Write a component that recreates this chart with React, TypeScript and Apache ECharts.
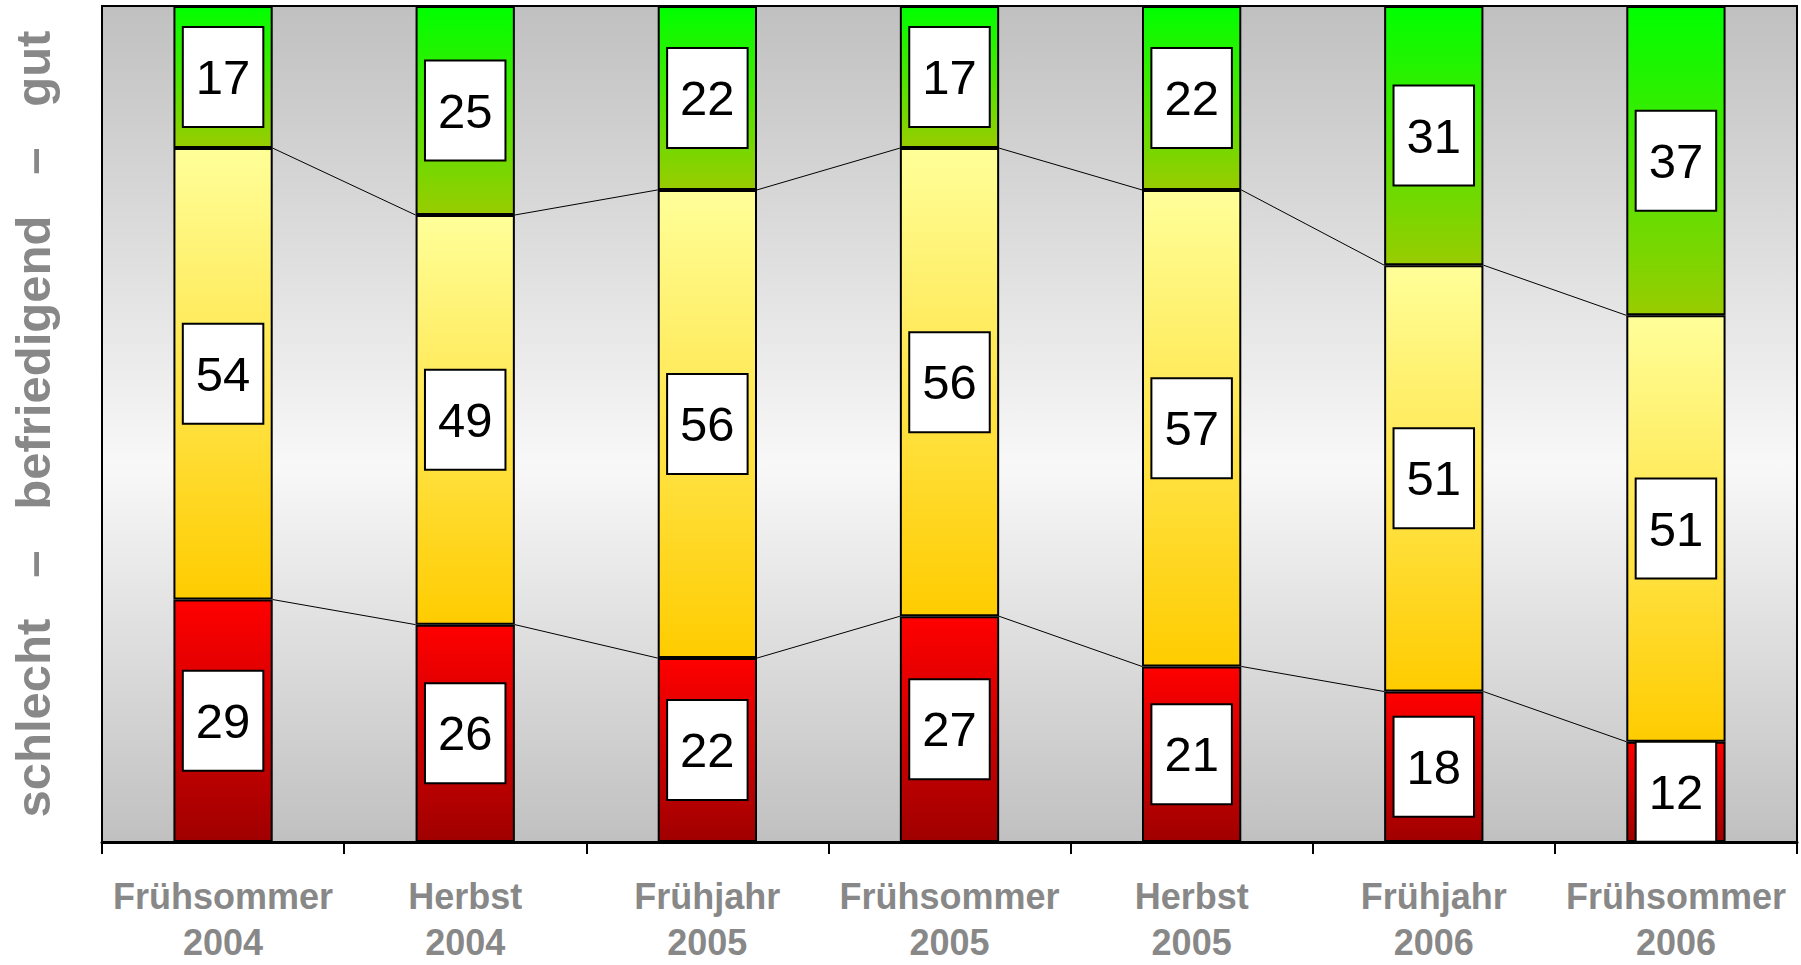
import React, { useEffect, useRef } from "react";
import * as echarts from "echarts";

const categories = [
  "Frühsommer\n2004",
  "Herbst\n2004",
  "Frühjahr\n2005",
  "Frühsommer\n2005",
  "Herbst\n2005",
  "Frühjahr\n2006",
  "Frühsommer\n2006",
];
const schlecht = [29, 26, 22, 27, 21, 18, 12];
const befriedigend = [54, 49, 56, 56, 57, 51, 51];
const gut = [17, 25, 22, 17, 22, 31, 37];
const yAxisName = "schlecht   –   befriedigend   –   gut";

const BAR_FRAC = 0.41;

function grad(top: string, bottom: string) {
  return new echarts.graphic.LinearGradient(0, 0, 0, 1, [
    { offset: 0, color: top },
    { offset: 1, color: bottom },
  ]);
}

export default function App() {
  const ref = useRef<HTMLDivElement>(null);
  useEffect(() => {
    if (!ref.current) return;
    const chart = echarts.init(ref.current, undefined, { renderer: "svg" });

    const lineData = categories.slice(0, -1).map((_, i) => [
      i,
      schlecht[i],
      schlecht[i + 1],
      schlecht[i] + befriedigend[i],
      schlecht[i + 1] + befriedigend[i + 1],
    ]);

    const label = {
      show: true,
      position: "inside",
      formatter: "{c}",
      color: "#000",
      fontSize: 49,
      fontFamily: "Liberation Sans, Arial, sans-serif",
      lineHeight: 50,
      backgroundColor: "#fff",
      borderColor: "#000",
      borderWidth: 2,
      padding: [24, 12],
    };

    chart.setOption({
      animation: false,
      grid: {
        left: 100,
        right: 4,
        top: 6,
        bottom: 120,
        show: true,
        borderColor: "#000",
        borderWidth: 2,
        backgroundColor: {
          type: "linear",
          x: 0,
          y: 0,
          x2: 0,
          y2: 1,
          colorStops: [
            { offset: 0, color: "#c0c0c0" },
            { offset: 0.55, color: "#f8f8f8" },
            { offset: 1, color: "#c0c0c0" },
          ],
        },
      },
      xAxis: {
        type: "category",
        data: categories,
        axisLine: { show: true, lineStyle: { color: "#000", width: 3 } },
        axisTick: { show: true, length: 12, interval: 0, lineStyle: { color: "#000", width: 2 } },
        axisLabel: {
          interval: 0,
          margin: 31,
          color: "#888888",
          fontWeight: "bold",
          fontSize: 36,
          lineHeight: 46,
          fontFamily: "Liberation Sans, Arial, sans-serif",
        },
      },
      yAxis: {
        type: "value",
        min: 0,
        max: 100,
        axisLabel: { show: false },
        axisTick: { show: false },
        splitLine: { show: false },
        axisLine: { show: true, lineStyle: { color: "#000", width: 2 } },
        name: yAxisName,
        nameLocation: "middle",
        nameGap: 45,
        nameTextStyle: {
          color: "#888888",
          fontWeight: "bold",
          fontSize: 49,
          fontFamily: "Liberation Sans, Arial, sans-serif",
        },
      },
      series: [
        {
          name: "schlecht",
          type: "bar",
          stack: "all",
          barWidth: BAR_FRAC * 100 + "%",
          data: schlecht,
          itemStyle: { color: grad("#ff0000", "#a00000"), borderColor: "#000", borderWidth: 2 },
          label,
        },
        {
          name: "befriedigend",
          type: "bar",
          stack: "all",
          data: befriedigend,
          itemStyle: { color: grad("#ffff99", "#ffcc00"), borderColor: "#000", borderWidth: 2 },
          label,
        },
        {
          name: "gut",
          type: "bar",
          stack: "all",
          data: gut,
          itemStyle: { color: grad("#00ff00", "#99cc00"), borderColor: "#000", borderWidth: 2 },
          label,
        },
        {
          type: "custom",
          silent: true,
          z: 5,
          data: lineData,
          encode: { x: 0, y: 1 },
          renderItem: (params: any, api: any) => {
            const i = api.value(0);
            const hw = (api.size([1, 0])[0] * BAR_FRAC) / 2;
            const a1 = api.coord([i, api.value(1)]);
            const b1 = api.coord([i + 1, api.value(2)]);
            const a2 = api.coord([i, api.value(3)]);
            const b2 = api.coord([i + 1, api.value(4)]);
            return {
              type: "group",
              children: [
                {
                  type: "line",
                  shape: { x1: a1[0] + hw, y1: a1[1], x2: b1[0] - hw, y2: b1[1] },
                  style: { stroke: "#000", lineWidth: 1 },
                },
                {
                  type: "line",
                  shape: { x1: a2[0] + hw, y1: a2[1], x2: b2[0] - hw, y2: b2[1] },
                  style: { stroke: "#000", lineWidth: 1 },
                },
              ],
            };
          },
        },
      ],
    });
    return () => chart.dispose();
  }, []);
  return (
    <div
      ref={ref}
      style={{ position: "fixed", left: 0, top: 0, width: 1801, height: 965, background: "#fff" }}
    />
  );
}
